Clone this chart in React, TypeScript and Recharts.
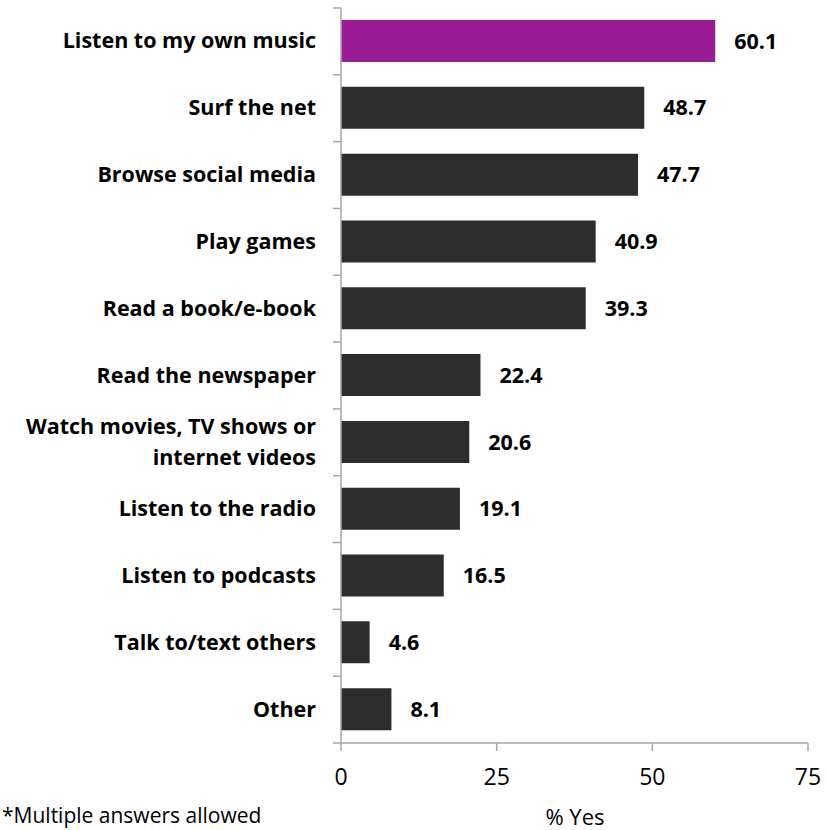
import React from 'react';
import { BarChart, Bar, XAxis, YAxis, Cell, LabelList } from 'recharts';

const categories = [
  'Listen to my own music',
  'Surf the net',
  'Browse social media',
  'Play games',
  'Read a book/e-book',
  'Read the newspaper',
  'Watch movies, TV shows or internet videos',
  'Listen to the radio',
  'Listen to podcasts',
  'Talk to/text others',
  'Other',
];
const values = [60.1, 48.7, 47.7, 40.9, 39.3, 22.4, 20.6, 19.1, 16.5, 4.6, 8.1];
const xTicks = [0, 25, 50, 75];

// label wrapping for the long category
const wrapped: Record<string, string[]> = {
  'Watch movies, TV shows or internet videos': ['Watch movies, TV shows or', 'internet videos'],
};

const W = 829;
const H = 830;
const TOP = 8;
const BOTTOM = 743;
const AXIS_X = 341;
const BAND = (BOTTOM - TOP) / categories.length;
const FONT = '"Open Sans", sans-serif';
const AXIS_COLOR = '#A6A6A6';

const data = categories.map((name, i) => ({ name, value: values[i] }));

const CategoryTick = (props: any) => {
  const { y, payload, index } = props;
  const lines = wrapped[payload.value] || [payload.value];
  const top = y - BAND / 2;
  return (
    <g>
      <path d={`M${AXIS_X - 8},${top}H${AXIS_X}`} stroke={AXIS_COLOR} strokeWidth={1.5} fill="none" />
      {index === categories.length - 1 && (
        <path d={`M${AXIS_X - 8},${y + BAND / 2}H${AXIS_X}`} stroke={AXIS_COLOR} strokeWidth={1.5} fill="none" />
      )}
      <text textAnchor="end" fontFamily={FONT} fontWeight={700} fontSize={21.5} fill="#000">
        {lines.map((l: string, k: number) => (
          <tspan key={k} x={316} y={y + 7 + (k - (lines.length - 1) / 2) * 31}>
            {l}
          </tspan>
        ))}
      </text>
    </g>
  );
};

const App: React.FC = () => {
  return (
    <div style={{ position: 'absolute', left: 0, top: 0, width: W, height: H, background: '#fff' }}>
      <BarChart
        layout="vertical"
        width={W}
        height={H}
        data={data}
        margin={{ top: TOP, right: W - 808, bottom: 0, left: 0 }}
      >
        <XAxis
          type="number"
          domain={[0, 75]}
          ticks={xTicks}
          axisLine={{ stroke: AXIS_COLOR, strokeWidth: 1.5 }}
          tickLine={{ stroke: AXIS_COLOR, strokeWidth: 1.5 }}
          tickSize={8}
          tick={{ fontFamily: FONT, fontSize: 23, fill: '#000' }}
          tickMargin={18}
          height={H - BOTTOM}
        />
        <YAxis
          type="category"
          dataKey="name"
          width={AXIS_X}
          axisLine={{ stroke: AXIS_COLOR, strokeWidth: 1.5 }}
          tickLine={false}
          tick={<CategoryTick />}
          interval={0}
        />
        <Bar dataKey="value" barSize={42} isAnimationActive={false}>
          {data.map((d, i) => (
            <Cell key={`c-${i}`} fill={i === 0 ? '#9B1D96' : '#2D2D2D'} />
          ))}
          <LabelList
            dataKey="value"
            position="right"
            offset={19}
            formatter={(v: any) => Number(v).toFixed(1)}
            style={{ fontFamily: FONT, fontWeight: 700, fontSize: 21.5, fill: '#000' }}
          />
        </Bar>
        <text x={575} y={825} textAnchor="middle" fontFamily={FONT} fontSize={22} fill="#000">
          % Yes
        </text>
        <text x={2} y={823} fontFamily={FONT} fontSize={21} fill="#000">
          *Multiple answers allowed
        </text>
      </BarChart>
    </div>
  );
};

export default App;
